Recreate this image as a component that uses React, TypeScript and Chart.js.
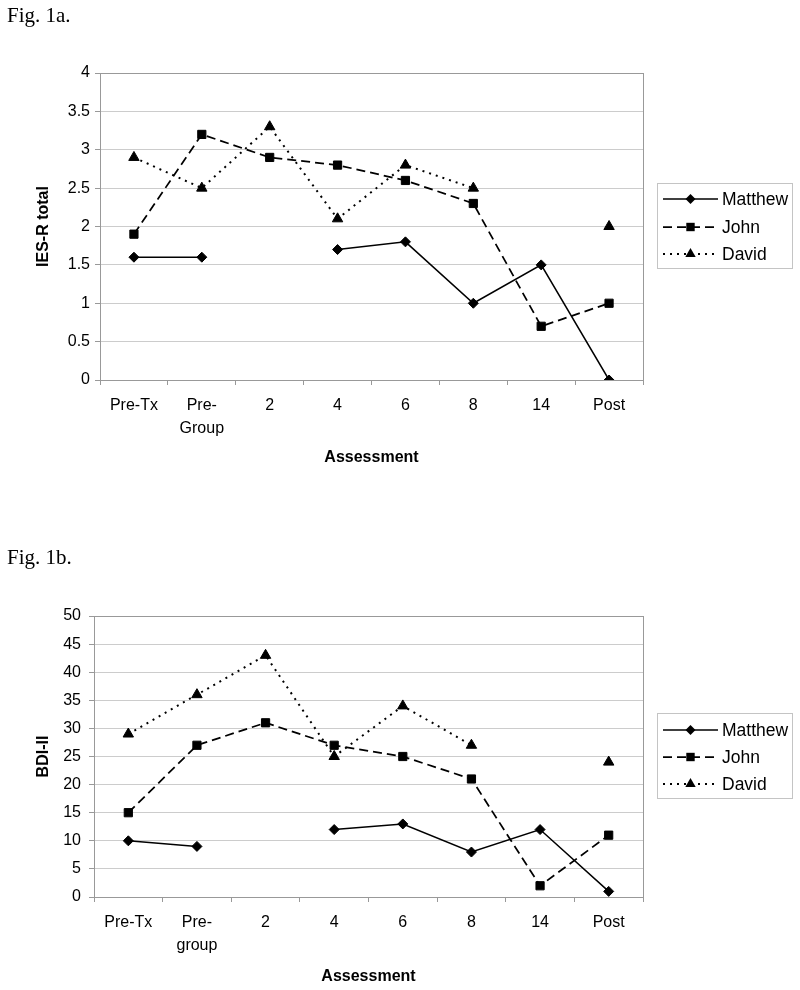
import React, { useEffect, useRef } from 'react';
import { Chart, registerables } from 'chart.js';

Chart.register(...registerables);

// ---------- data ----------
const seriesNames = ['Matthew', 'John', 'David'];

const categoriesA: (string | string[])[] = ['Pre-Tx', ['Pre-', 'Group'], '2', '4', '6', '8', '14', 'Post'];
const categoriesB: (string | string[])[] = ['Pre-Tx', ['Pre-', 'group'], '2', '4', '6', '8', '14', 'Post'];

const iesMatthew = [1.6, 1.6, null, 1.7, 1.8, 1.0, 1.5, 0];
const iesJohn = [1.9, 3.2, 2.9, 2.8, 2.6, 2.3, 0.7, 1.0];
const iesDavid = [2.9, 2.5, 3.3, 2.1, 2.8, 2.5, null, 2.0];

const bdiMatthew = [10, 9, null, 12, 13, 8, 12, 1];
const bdiJohn = [15, 27, 31, 27, 25, 21, 2, 11];
const bdiDavid = [29, 36, 43, 25, 34, 27, null, 24];

const iesAxis = { min: 0, max: 4, step: 0.5, title: 'IES-R total' };
const bdiAxis = { min: 0, max: 50, step: 5, title: 'BDI-II' };
const xTitle = 'Assessment';

// ---------- styles ----------
const FONT = 'Liberation Sans';
const STY = [
  { dash: [] as number[], ps: 'rectRot', r: 5, w: 1.5, marker: 'diamond' },
  { dash: [9, 5], ps: 'rect', r: 5.8, w: 1.75, marker: 'square' },
  { dash: [2, 5], ps: 'triangle', r: 6, w: 2, marker: 'triangle' },
];

function drawMarker(ctx: CanvasRenderingContext2D, kind: string, x: number, y: number) {
  ctx.save();
  ctx.setLineDash([]);
  ctx.fillStyle = '#000';
  ctx.beginPath();
  if (kind === 'diamond') {
    const r = 5;
    ctx.moveTo(x, y - r); ctx.lineTo(x + r, y); ctx.lineTo(x, y + r); ctx.lineTo(x - r, y);
  } else if (kind === 'square') {
    const h = 4.2;
    ctx.rect(x - h, y - h, 2 * h, 2 * h);
  } else {
    const r = 6;
    for (let k = 0; k < 3; k++) {
      const a = (k * 2 * Math.PI) / 3;
      const px = x + Math.sin(a) * r;
      const py = y - Math.cos(a) * r;
      if (k === 0) ctx.moveTo(px, py); else ctx.lineTo(px, py);
    }
  }
  ctx.closePath();
  ctx.fill();
  ctx.restore();
}

const frameLegend = {
  id: 'frameLegend',
  beforeDatasetsDraw(chart: any) {
    const { ctx, chartArea: a } = chart;
    ctx.save();
    ctx.strokeStyle = '#999';
    ctx.lineWidth = 1;
    ctx.strokeRect(Math.round(a.left) + 0.5, Math.round(a.top) + 0.5, Math.round(a.right - a.left), Math.round(a.bottom - a.top));
    ctx.restore();
  },
  afterDraw(chart: any, _args: any, opts: any) {
    const { ctx } = chart;
    const [bx, by, bw, bh] = opts.box;
    ctx.save();
    ctx.strokeStyle = '#c4c4c4';
    ctx.lineWidth = 1;
    ctx.strokeRect(bx + 0.5, by + 0.5, bw, bh);
    seriesNames.forEach((name, i) => {
      const y = opts.rows[i];
      const s = STY[i];
      ctx.save();
      ctx.strokeStyle = '#000';
      ctx.lineWidth = s.w;
      ctx.setLineDash(s.dash);
      ctx.beginPath();
      ctx.moveTo(opts.lineX[0], y);
      ctx.lineTo(opts.lineX[1], y);
      ctx.stroke();
      ctx.restore();
      drawMarker(ctx, s.marker, (opts.lineX[0] + opts.lineX[1]) / 2, y);
      ctx.fillStyle = '#000';
      ctx.font = `17.5px "${FONT}"`;
      ctx.textBaseline = 'middle';
      ctx.textAlign = 'left';
      ctx.fillText(name, opts.textX, y + 1);
    });
    ctx.restore();
  },
};

function makeConfig(p: any): any {
  return {
    type: 'line',
    data: {
      labels: p.labels,
      datasets: seriesNames.map((name, i) => ({
        label: name,
        data: p.values[i],
        borderColor: '#000',
        backgroundColor: '#000',
        borderWidth: STY[i].w,
        borderDash: STY[i].dash,
        pointStyle: STY[i].ps,
        pointRadius: STY[i].r,
        pointHoverRadius: STY[i].r,
        pointBackgroundColor: '#000',
        pointBorderColor: '#000',
        pointBorderWidth: 1,
        tension: 0,
        spanGaps: false,
        fill: false,
      })),
    },
    options: {
      responsive: false,
      animation: false,
      events: [],
      layout: { padding: p.pad },
      plugins: {
        legend: { display: false },
        tooltip: { enabled: false },
        frameLegend: p.legend,
      },
      scales: {
        x: {
          type: 'category',
          offset: true,
          grid: { offset: true, drawOnChartArea: false, drawTicks: true, tickLength: 5, tickColor: '#999', tickWidth: 1 },
          border: { color: '#999', width: 1 },
          ticks: { color: '#000', font: { family: FONT, size: 16, lineHeight: 1.4 }, padding: 9.5, maxRotation: 0, autoSkip: false },
          title: {
            display: true, text: xTitle, color: '#000',
            font: { family: FONT, size: 16, weight: 'bold' },
            padding: { top: 0, bottom: p.xTitlePad },
          },
          afterFit: (s: any) => { s.height = p.xH; },
        },
        y: {
          min: p.axis.min,
          max: p.axis.max,
          ticks: {
            stepSize: p.axis.step, color: '#000',
            font: { family: FONT, size: 16 }, padding: p.yTickPad,
            callback: (v: any) => String(Number(v)),
          },
          grid: { color: '#cccccc', tickColor: '#999', tickLength: 5, lineWidth: 1 },
          border: { color: '#999', width: 1 },
          title: {
            display: true, text: p.axis.title, color: '#000',
            font: { family: FONT, size: 16, weight: 'bold' },
            padding: { top: p.yTitlePad, bottom: 0 },
          },
          afterFit: (s: any) => { s.width = p.yW; },
        },
      },
    },
    plugins: [frameLegend],
  };
}

export default function App() {
  const r1 = useRef<HTMLCanvasElement>(null);
  const r2 = useRef<HTMLCanvasElement>(null);

  useEffect(() => {
    const c1 = new Chart(r1.current as HTMLCanvasElement, makeConfig({
      labels: categoriesA,
      values: [iesMatthew, iesJohn, iesDavid],
      axis: iesAxis,
      pad: { top: 73, right: 157, bottom: 10, left: 0 },
      xH: 100, yW: 100, xTitlePad: 12.4, yTitlePad: 33.7, yTickPad: 5,
      legend: { box: [657, 183, 135, 85], rows: [199, 227, 254], lineX: [663, 718], textX: 722 },
    }));
    const c2 = new Chart(r2.current as HTMLCanvasElement, makeConfig({
      labels: categoriesB,
      values: [bdiMatthew, bdiJohn, bdiDavid],
      axis: bdiAxis,
      pad: { top: 116, right: 157, bottom: 0, left: 0 },
      xH: 93, yW: 94, xTitlePad: 3.4, yTitlePad: 34, yTickPad: 8,
      legend: { box: [657, 713 - 500, 135, 85], rows: [230, 257, 284], lineX: [663, 718], textX: 722 },
    }));
    return () => { c1.destroy(); c2.destroy(); };
  }, []);

  const figStyle: React.CSSProperties = {
    position: 'absolute', left: 7, fontFamily: '"Liberation Serif"', fontSize: 21,
    lineHeight: '21px', whiteSpace: 'nowrap', color: '#000',
  };

  return (
    <div style={{ position: 'absolute', left: 0, top: 0, width: 800, height: 990, background: '#fff', overflow: 'hidden' }}>
      <canvas ref={r1} width={800} height={490} style={{ position: 'absolute', left: 0, top: 0, width: 800, height: 490 }} />
      <canvas ref={r2} width={800} height={490} style={{ position: 'absolute', left: 0, top: 500, width: 800, height: 490 }} />
      <div style={{ ...figStyle, top: 5 }}>Fig. 1a.</div>
      <div style={{ ...figStyle, top: 547 }}>Fig. 1b.</div>
    </div>
  );
}
